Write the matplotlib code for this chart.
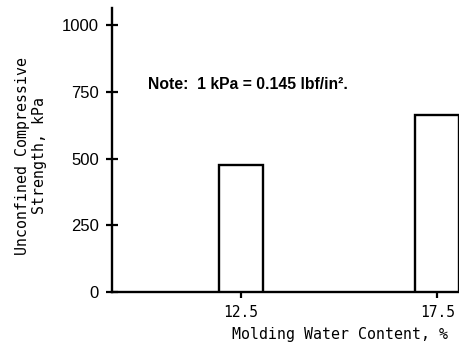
import matplotlib.pyplot as plt

water_content = [12.5, 17.5]
strength = [476, 663]
y_ticks = [0, 250, 500, 750, 1000]
x_ticks = [12.5, 17.5]

fig = plt.figure(figsize=(4.6, 3.5), dpi=100)
ax = fig.add_axes([112 / 460, 58 / 350, 348 / 460, 284 / 350])

ax.bar(water_content, strength, width=1.12, facecolor="white",
       edgecolor="black", linewidth=1.7, zorder=3)

ax.set_xlim(9.21, 18.08)
ax.set_ylim(0, 1065)
for side in ("top", "right"):
    ax.spines[side].set_visible(False)
for side in ("left", "bottom"):
    ax.spines[side].set_linewidth(1.7)

ax.set_yticks(y_ticks)
ax.set_yticklabels([str(v) for v in y_ticks], family="Liberation Sans", fontsize=12)
ax.set_xticks(x_ticks)
ax.set_xticklabels([str(v) for v in x_ticks], family="DejaVu Sans Mono", fontsize=10.5)
ax.tick_params(axis="both", direction="inout", length=9, width=1.6, pad=5)

ax.set_xlabel("Molding Water Content, %", family="DejaVu Sans Mono", fontsize=10.75)
ax.xaxis.set_label_coords(0.654, -0.125)
ax.set_ylabel("Unconfined Compressive\nStrength, kPa", family="DejaVu Sans Mono",
              fontsize=10.7, linespacing=1.15)
ax.yaxis.set_label_coords(-0.187, 0.48)

ax.text(0.103, 0.729, "Note:  1 kPa = 0.145 lbf/in\u00b2.", transform=ax.transAxes,
        family="Liberation Sans", fontweight="bold", fontsize=11.3, va="center")

fig.savefig("out.png", dpi=100)
